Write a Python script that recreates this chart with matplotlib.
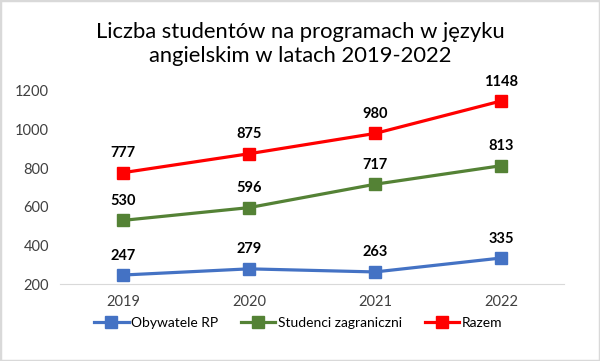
import matplotlib.pyplot as plt

lata = ['2019', '2020', '2021', '2022']
obywatele_rp = [247, 279, 263, 335]
studenci_zagr = [530, 596, 717, 813]
razem = [777, 875, 980, 1148]

plt.rcParams['font.family'] = ['Lato', 'DejaVu Sans']

fig = plt.figure(figsize=(6, 3.61), dpi=100)
ax = fig.add_axes([0.1, 0.213, 0.84, 0.535])

serie = [
    ('Obywatele RP', obywatele_rp, '#4472C4'),
    ('Studenci zagraniczni', studenci_zagr, '#548235'),
    ('Razem', razem, '#FF0000'),
]
x = range(len(lata))
for nazwa, wartosci, kolor in serie:
    ax.plot(x, wartosci, color=kolor, lw=2.3, marker='s', ms=8, label=nazwa)
    for xi, v in zip(x, wartosci):
        ax.annotate(str(v), (xi, v), xytext=(0, 9), textcoords='offset points',
                    ha='center', va='bottom', fontsize=10.5, fontweight='bold')

ax.set_xlim(-0.5, 3.5)
ax.set_ylim(200, 1200)
ax.set_yticks(range(200, 1201, 200))
ax.set_xticks(list(x))
ax.set_xticklabels(lata)
ax.tick_params(length=0, labelsize=10.5, colors='#404040', pad=8)
for s in ['top', 'right', 'left']:
    ax.spines[s].set_visible(False)
ax.spines['bottom'].set_color('#D9D9D9')
fig.text(0.5, 0.878, 'Liczba studentów na programach w języku\nangielskim w latach 2019-2022',
         ha='center', va='center', fontsize=15.8, color='#000000', linespacing=1.3)

fig.legend(loc='center', ncol=3, frameon=False, fontsize=10,
           bbox_to_anchor=(0.497, 0.105), handlelength=2.5, handletextpad=0.2,
           columnspacing=1.6)

fig.patches.append(plt.Rectangle((0, 0), 1, 1, transform=fig.transFigure,
                                 fill=False, edgecolor='#D9D9D9', lw=2.5))
fig.savefig('out.png', dpi=100)
